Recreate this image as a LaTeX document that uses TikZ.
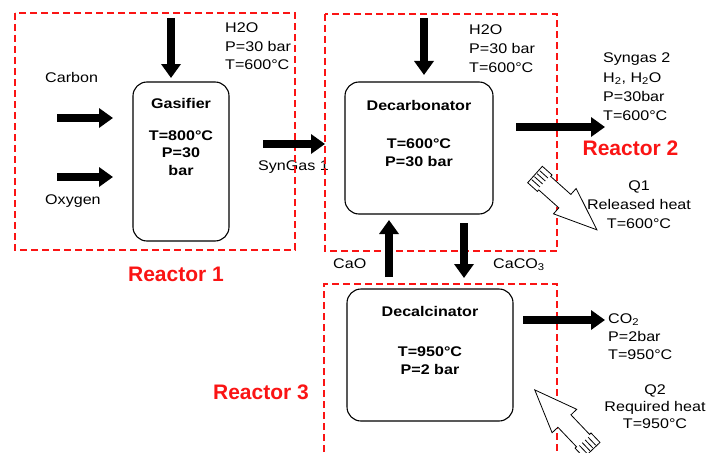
\documentclass[tikz,border=0pt]{standalone}
\usepackage{fontspec}
\setmainfont{Liberation Sans}[FakeStretch=1.15]
\newfontfamily\tagfont{Liberation Sans}
\usepackage{xcolor}
\usepackage{tikz}
\usetikzlibrary{arrows.meta,positioning}
\definecolor{reactred}{RGB}{250,20,20}
\newcommand{\heatflow}[2]{%
  \begin{scope}[shift={#1}, rotate=#2, line width=0.8pt]
    \draw[fill=white] (0,-11) -- (13,-11) -- (13,-9) -- (40,-9) -- (40,-17)
      -- (83,0) -- (40,17) -- (40,9) -- (13,9) -- (13,11) -- (0,11) -- cycle;
    \foreach \d in {-6,-2,2,6} \draw (1,\d) -- (12,\d);
  \end{scope}}

\begin{document}
\begin{tikzpicture}[x=1pt, y=-1pt,
  every node/.style={font=\fontsize{14}{18.5}\selectfont, inner sep=0pt},
  box/.style={draw, rounded corners=14pt, line width=1.1pt},
  inbox/.style={align=center, anchor=base, font=\fontsize{14}{17.5}\selectfont\bfseries},
  stream/.style={align=left, anchor=base west},
  heat/.style={align=center, anchor=base},
  reactor/.style={draw=reactred, line width=2.6pt, dash pattern=on 7pt off 4pt},
  tag/.style={anchor=base, text=reactred, font=\tagfont\fontsize{21}{24}\selectfont\bfseries},
  arr/.style={-{Triangle[length=14pt,width=19pt]}, line width=8.5pt}
]
\useasboundingbox (0,0) rectangle (706,452);

% unit boxes (multi-line texts sit on the baseline of their last line)
\node[box, minimum width=96pt, minimum height=159pt] (gas) at (181,161.5) {};
\node[box, minimum width=148pt, minimum height=132pt] (decarb) at (419,148) {};
\node[box, minimum width=166pt, minimum height=132pt] (decalc) at (430,355) {};

\node[inbox] (gast) at (181,108) {Gasifier};
\node[inbox] (gasv) at (181,175) {T=800°C\\P=30\\bar};
\node[inbox] (decarbt) at (419,110) {Decarbonator};
\node[inbox] (decarbv) at (419,166) {T=600°C\\P=30 bar};
\node[inbox] (decalct) at (430,316.5) {Decalcinator};
\node[inbox] (decalcv) at (430,374) {T=950°C\\P=2 bar};

% stream labels
\node[stream] (h2oa) at (225,70) {H2O\\P=30 bar\\T=600°C};
\node[stream] (carbon) at (45,82.5) {Carbon};
\node[stream] (oxygen) at (45,204.5) {Oxygen};
\node[stream] (syn1) at (258,170) {SynGas 1};
\node[stream] (h2ob) at (469,72) {H2O\\P=30 bar\\T=600°C};
\node[stream, font=\fontsize{14}{19.2}\selectfont] (syn2) at (603,120.5)
  {Syngas 2\\H\textsubscript{2}, H\textsubscript{2}O\\P=30bar\\T=600°C};
\node[stream] (cao) at (333,268) {CaO};
\node[stream] (caco) at (493,268) {CaCO\textsubscript{3}};
\node[stream, font=\fontsize{14}{18}\selectfont] (co2) at (608,359) {CO\textsubscript{2}\\P=2bar\\T=950°C};
\node[heat, font=\fontsize{14}{18.7}\selectfont] (q1) at (639,228) {Q1\\Released heat\\T=600°C};
\node[heat, font=\fontsize{14}{17}\selectfont] (q2) at (655,428) {Q2\\Required heat\\T=950°C};

% reactor frames
\draw[reactor] (15,13) rectangle (295,250);
\draw[reactor] (325,14) rectangle (557,251);
\draw[reactor] (324,452) -- (324,284) -- (557,284) -- (557,452);
\node[tag] (r1) at (176,281.7) {Reactor 1};
\node[tag] (r2) at (630.5,155) {Reactor 2};
\node[tag] (r3) at (261,399) {Reactor 3};

% flows
\coordinate (cin) at (57,118);   \coordinate (cout) at (113,118);
\coordinate (oin) at (57,177);   \coordinate (oout) at (113,177);
\coordinate (wain) at (171,18);  \coordinate (waout) at (171,78);
\coordinate (sain) at (263,144); \coordinate (saout) at (325,144);
\coordinate (wbin) at (424,18);  \coordinate (wbout) at (424,75);
\coordinate (sbin) at (516,127); \coordinate (sbout) at (605,127);
\coordinate (caoin) at (389,277); \coordinate (caoout) at (389,220);
\coordinate (cacoin) at (464,223); \coordinate (cacoout) at (464,278);
\coordinate (co2in) at (523,320); \coordinate (co2out) at (605,320);
\draw[arr] (cin) -- (cout);
\draw[arr] (oin) -- (oout);
\draw[arr] (wain) -- (waout);
\draw[arr] (sain) -- (saout);
\draw[arr] (wbin) -- (wbout);
\draw[arr] (sbin) -- (sbout);
\draw[arr] (caoin) -- (caoout);
\draw[arr] (cacoin) -- (cacoout);
\draw[arr] (co2in) -- (co2out);

% heat
\heatflow{(535,174.5)}{-41.8}
\heatflow{(592,450)}{133.6}
\end{tikzpicture}
\end{document}
